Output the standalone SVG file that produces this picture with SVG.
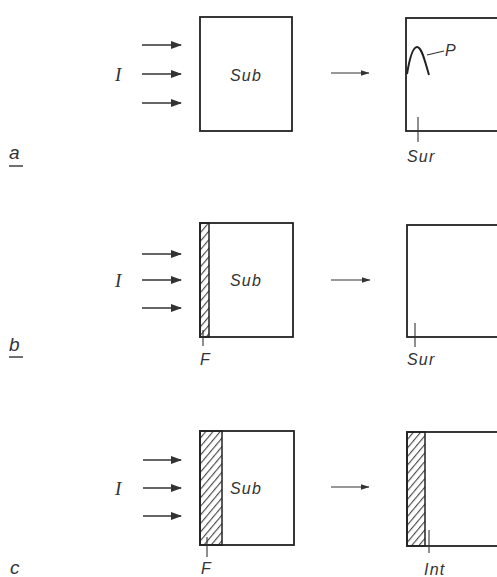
<svg xmlns="http://www.w3.org/2000/svg" width="497" height="577" viewBox="0 0 497 577">
<style>
  .box { fill: none; stroke: #222; stroke-width: 1.8; }
  .ln { fill: none; stroke: #333; stroke-width: 1.7; }
  .thin { fill: none; stroke: #333; stroke-width: 1.2; }
  .ld { stroke: #333; stroke-width: 1.1; }
  .t { font-family: "Liberation Sans", Arial, sans-serif; font-style: italic; font-size: 16px; fill: #333; letter-spacing: 1.2px; }
  .lab { font-family: "Liberation Sans", Arial, sans-serif; font-style: italic; font-size: 19px; fill: #333; }
  .ti { font-family: "Liberation Serif", "Times New Roman", serif; font-style: italic; font-size: 19px; fill: #333; }
  .hatch { fill: url(#hat); stroke: #222; stroke-width: 1.5; }
</style>
<defs>
  <marker id="ah" markerUnits="userSpaceOnUse" markerWidth="11" markerHeight="8" refX="10" refY="4" orient="auto">
    <path d="M0,0 L11,4 L0,8 Z" fill="#333"/>
  </marker>
  <marker id="ahs" markerUnits="userSpaceOnUse" markerWidth="9" markerHeight="7" refX="8.5" refY="3.5" orient="auto">
    <path d="M0,0.5 L9,3.5 L0,6.5 Z" fill="#333"/>
  </marker>
  <pattern id="hat" patternUnits="userSpaceOnUse" width="5.5" height="5.5" patternTransform="rotate(40)">
    <rect width="5.5" height="5.5" fill="#fff"/>
    <line x1="0.6" y1="0" x2="0.6" y2="5.5" stroke="#333" stroke-width="1"/>
  </pattern>
</defs>

<g id="labels">
  <text class="lab" x="9" y="159">a</text>
  <line x1="9" y1="166" x2="23" y2="166" stroke="#333" stroke-width="1.4"/>
  <text class="lab" x="9" y="351">b</text>
  <line x1="9" y1="357" x2="23" y2="357" stroke="#333" stroke-width="1.4"/>
  <text class="lab" x="10" y="574">c</text>
</g>

<g id="connectors">
  <line class="ln" x1="142" y1="45" x2="181" y2="45" marker-end="url(#ah)"/>
  <line class="ln" x1="142" y1="74" x2="181" y2="74" marker-end="url(#ah)"/>
  <line class="ln" x1="142" y1="103" x2="181" y2="103" marker-end="url(#ah)"/>
  <line class="thin" x1="331" y1="73" x2="369" y2="73" marker-end="url(#ahs)"/>

  <line class="ln" x1="142" y1="254" x2="181" y2="254" marker-end="url(#ah)"/>
  <line class="ln" x1="142" y1="280" x2="181" y2="280" marker-end="url(#ah)"/>
  <line class="ln" x1="142" y1="308" x2="181" y2="308" marker-end="url(#ah)"/>
  <line class="thin" x1="331" y1="280" x2="370" y2="280" marker-end="url(#ahs)"/>

  <line class="ln" x1="143" y1="460" x2="181" y2="460" marker-end="url(#ah)"/>
  <line class="ln" x1="143" y1="488" x2="181" y2="488" marker-end="url(#ah)"/>
  <line class="ln" x1="143" y1="516" x2="181" y2="516" marker-end="url(#ah)"/>
  <line class="thin" x1="331" y1="487" x2="369" y2="487" marker-end="url(#ahs)"/>
</g>

<g id="a-sub">
  <rect class="box" x="200" y="17" width="92" height="114"/>
  <text class="ti" x="115" y="81">I</text>
  <text class="t" x="246" y="81" text-anchor="middle">Sub</text>
</g>
<g id="a-result">
  <rect class="box" x="406" y="18" width="100" height="113"/>
  <path d="M407,74 C409,62 412,47 417,47 C422,47 425,62 429,75" fill="none" stroke="#222" stroke-width="2"/>
  <line class="ld" x1="427" y1="55" x2="444" y2="51"/>
  <text class="t" x="445" y="56">P</text>
  <line class="ld" x1="418" y1="117" x2="418" y2="142"/>
  <text class="t" x="407" y="162">Sur</text>
</g>

<g id="b-sub">
  <rect class="hatch" x="200" y="223" width="9" height="114"/>
  <rect class="box" x="200" y="223" width="93" height="114"/>
  <text class="ti" x="115" y="287">I</text>
  <text class="t" x="246" y="286" text-anchor="middle">Sub</text>
  <line class="ld" x1="203" y1="330" x2="203" y2="346"/>
  <text class="t" x="200" y="365">F</text>
</g>
<g id="b-result">
  <rect class="box" x="407" y="225" width="100" height="112"/>
  <line class="ld" x1="415" y1="323" x2="415" y2="347"/>
  <text class="t" x="407" y="365">Sur</text>
</g>

<g id="c-sub">
  <rect class="hatch" x="200" y="431" width="22" height="114"/>
  <rect class="box" x="200" y="431" width="94" height="114"/>
  <text class="ti" x="115" y="495">I</text>
  <text class="t" x="246" y="494" text-anchor="middle">Sub</text>
  <line class="ld" x1="207" y1="537" x2="207" y2="557"/>
  <text class="t" x="201" y="574">F</text>
</g>
<g id="c-result">
  <rect class="hatch" x="407" y="432" width="18" height="114"/>
  <rect class="box" x="407" y="432" width="100" height="114"/>
  <line class="ld" x1="429" y1="530" x2="429" y2="553"/>
  <text class="t" x="424" y="575">Int</text>
</g>
</svg>
